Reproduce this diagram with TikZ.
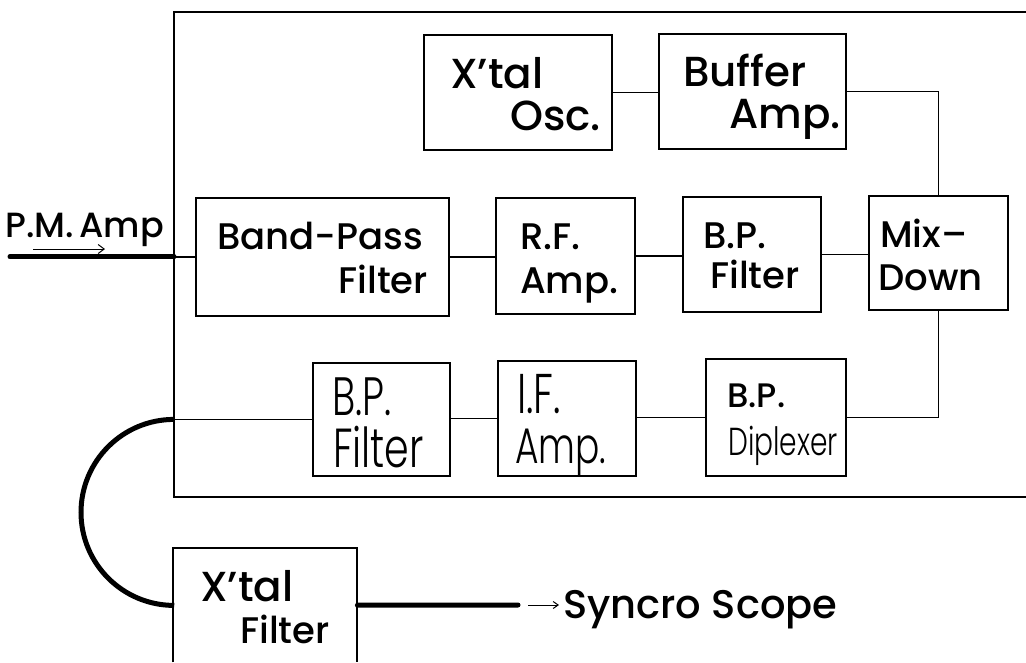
\documentclass[tikz,border=0pt]{standalone}
\usepackage{fontspec}
\setmainfont{Poppins}[UprightFont=* Medium]
\newfontfamily\handfont{Poppins}[UprightFont=* Light, FakeStretch=0.72]
\usetikzlibrary{arrows.meta}
\begin{document}
\begin{tikzpicture}[x=1pt,y=-1pt,
  frame/.style={line width=2.6pt},
  blk/.style={draw, line width=1.8pt, inner sep=0pt, anchor=north west},
  ghost/.style={inner sep=0pt, anchor=north west},
  wire/.style={line width=1.2pt},
  heavywire/.style={line width=5pt, line cap=round},
  tipline/.style={line width=1pt, -{Straight Barb[length=6pt,width=9pt]}},
  lbl/.style={anchor=base west, inner sep=0pt},
  fA/.style={font=\fontsize{42}{48}\selectfont},
  fB/.style={font=\fontsize{37}{42}\selectfont},
  fH/.style={font=\handfont\fontsize{#1}{#1}\selectfont},
]
\useasboundingbox (0,0) rectangle (1026,662);

% outer frame (open on the right)
\coordinate (ftr) at (1026,12);
\coordinate (ftl) at (174,12);
\coordinate (fbl) at (174,497);
\coordinate (fbr) at (1026,497);
\draw[frame] (ftr) -- (ftl) -- (fbl) -- (fbr);

% boxes
\node[blk, minimum width=188pt, minimum height=115pt] (osc) at (423,34) {};
\node[blk, minimum width=187pt, minimum height=115pt] (buf) at (658,33) {};
\node[blk, minimum width=253pt, minimum height=118pt] (bpf) at (195,197) {};
\node[blk, minimum width=139pt, minimum height=116pt] (rf)  at (495,197) {};
\node[blk, minimum width=138pt, minimum height=115pt] (bp1) at (682,196) {};
\node[blk, minimum width=139pt, minimum height=114pt] (mix) at (868,195) {};
\node[blk, minimum width=137pt, minimum height=113pt] (bp2) at (312,362) {};
\node[blk, minimum width=138pt, minimum height=115pt] (ifa) at (497,360) {};
\node[blk, minimum width=140pt, minimum height=117pt] (dip) at (705,358) {};
\node[ghost, minimum width=184pt, minimum height=114pt] (xf) at (173,548) {};
\draw[line width=2pt] (xf.south west) -- (xf.north west) -- (xf.north east) -- (xf.south east);

% labels
\node[lbl,fA] (oscA) at (450,88) {X’tal};
\node[lbl,fA] (oscB) at (510,130) {Osc.};
\node[lbl,fA] (bufA) at (683,86) {Buffer};
\node[lbl,fA] (bufB) at (729,128) {Amp.};
\node[lbl,fB] (bpfA) at (217,249) {Band-Pass};
\node[lbl,fB,anchor=base east] (bpfB) at (428,293) {Filter};
\node[lbl,fB] (rfA) at (520,249) {R.F.};
\node[lbl,fB] (rfB) at (520,293) {Amp.};
\node[lbl,fB] (bp1A) at (703,248) {B.P.};
\node[lbl,fB] (bp1B) at (710,288) {Filter};
\node[lbl,fB] (mixA) at (880,247) {Mix–};
\node[lbl,fB] (mixB) at (878,290) {Down};
\node[lbl,fH=54] (bp2A) at (332,415) {B.P.};
\node[lbl,fH=55] (bp2B) at (333,467) {Filter};
\node[lbl,fH=56] (ifaA) at (517,413) {I.F.};
\node[lbl,fH=50] (ifaB) at (515,463) {Amp.};
\node[lbl,font=\fontsize{34}{40}\selectfont] (dipA) at (727,407) {B.P.};
\node[lbl,fH=39] (dipB) at (728,455) {Diplexer};
\node[lbl,fA] (xfA) at (200,601) {X’tal};
\node[lbl,fB] (xfB) at (240,643) {Filter};
\node[lbl,font=\fontsize{35}{40}\selectfont] (pm) at (5,237) {P.M.\,Amp};
\node[lbl,font=\fontsize{40}{44}\selectfont] (syn) at (563,618) {Syncro Scope};

% junction coordinates
\coordinate (jin) at (fbl |- bpf.west);
\coordinate (pmin) at (10,0 |- bpf.west);
\coordinate (jout) at (fbl |- bp2.west);
\coordinate (pa1) at (33,249);
\coordinate (pa2) at (105,249);
\coordinate (xo) at (518,605);
\coordinate (sa1) at (528,605);
\coordinate (sa2) at (559,605);

% thin connectors
\draw[wire] (osc.east) -- (osc.east -| buf.west);
\draw[wire] (buf.east) -| (mix.north);
\draw[wire] (jin) -- (bpf.west);
\draw[wire] (bpf.east) -- (bpf.east -| rf.west);
\draw[wire] (rf.east) -- (rf.east -| bp1.west);
\draw[wire] (bp1.east) -- (bp1.east -| mix.west);
\draw[wire] (mix.south) |- (dip.east);
\draw[wire] (dip.west) -- (dip.west -| ifa.east);
\draw[wire] (ifa.west) -- (ifa.west -| bp2.east);
\draw[wire] (bp2.west) -- (jout);

% heavy lines
\draw[heavywire] (pmin) -- (jin);
\draw[heavywire, line cap=butt] (jout) arc[start angle=90, end angle=270, radius=93pt] -- (xf.west);
\draw[heavywire] (xf.east) -- (xo);

% small arrows
\draw[tipline] (pa1) -- (pa2);
\draw[tipline, -{Straight Barb[length=5pt,width=7pt]}] (sa1) -- (sa2);
\end{tikzpicture}
\end{document}
